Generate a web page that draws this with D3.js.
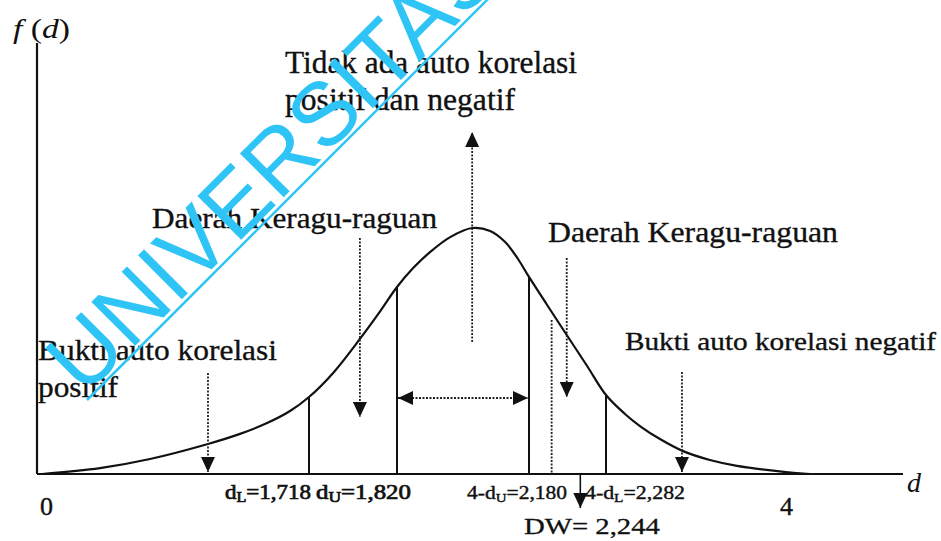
<!DOCTYPE html>
<html>
<head>
<meta charset="utf-8">
<script src="https://cdn.jsdelivr.net/npm/d3@7"></script>
<style>
  body { margin: 0; background: #fff; }
  svg { display: block; }
  text { font-family: "Liberation Serif", "Times New Roman", serif; fill: #111; }
</style>
</head>
<body>
<div id="chart"></div>
<script>
// Durbin-Watson test values
var critNames = ["d", "d", "4-d", "4-d"];
var critSubs = ["L", "U", "U", "L"];
var critValues = [1.718, 1.820, 2.180, 2.282];
var critLabels = ["1,718", "1,820", "2,180", "2,282"];
var dwValue = 2.244;
var dwLabel = "DW= 2,244";
var xTicks = [0, 4];

// f(d) curve (d, relative density)
var curveD = [0, 0.373, 0.695, 1.068, 1.274, 1.448, 1.596, 1.718, 1.746, 1.777, 1.800, 1.820, 1.864, 1.910, 1.965, 2.025,
              2.074, 2.115, 2.150, 2.180, 2.204, 2.230, 2.257, 2.282, 2.463, 2.606, 2.797, 3.017, 3.274, 3.532, 4.000, 4.229];
var curveF = [0, 0.024, 0.061, 0.122, 0.163, 0.207, 0.256, 0.313, 0.411, 0.549, 0.659, 0.760, 0.837, 0.902, 0.963, 1.000,
              0.988, 0.943, 0.874, 0.801, 0.687, 0.565, 0.439, 0.321, 0.244, 0.195, 0.142, 0.093, 0.057, 0.033, 0.008, 0];

// where the region arrows point (d)
var arrowD = [1.068, 1.777, 2.025, 2.230, 3.007];
var markD = 2.210;

var width = 941, height = 541;
var base = 474, top0 = 43, left0 = 37, right0 = 903;

// the picture is schematic: the critical values are spread apart
var x = d3.scaleLinear()
    .domain([0, critValues[0], critValues[1], critValues[2], critValues[3], 4])
    .range([42, 309, 397, 529, 606, 786]);
var y = d3.scaleLinear().domain([0, 1]).range([base, 228]);

var svg = d3.select("#chart").append("svg")
    .attr("width", width)
    .attr("height", height);

var defs = svg.append("defs");
defs.append("marker")
    .attr("id", "head")
    .attr("markerUnits", "userSpaceOnUse")
    .attr("viewBox", "0 0 15 14")
    .attr("markerWidth", 15)
    .attr("markerHeight", 14)
    .attr("refX", 15)
    .attr("refY", 7)
    .attr("orient", "auto-start-reverse")
  .append("path")
    .attr("d", "M0,0L15,7L0,14Z")
    .style("fill", "#111");

var data = curveD.map(function(d, i) { return {d: d, f: curveF[i]}; });
function fAt(v) {
  return curveF[curveD.indexOf(v)];
}

// axes
svg.append("line")
    .attr("x1", left0).attr("x2", left0)
    .attr("y1", top0).attr("y2", base)
    .style("stroke", "#111").style("stroke-width", 2.2);
svg.append("line")
    .attr("x1", left0).attr("x2", right0)
    .attr("y1", base).attr("y2", base)
    .style("stroke", "#111").style("stroke-width", 2.2);

var xAxis = svg.append("g")
    .attr("transform", "translate(0," + base + ")")
    .call(d3.axisBottom(x).tickValues(xTicks).tickSize(0).tickPadding(23).tickFormat(d3.format("d")));
xAxis.select(".domain").remove();
xAxis.selectAll("text")
    .attr("dx", function(d) { return d === 0 ? 4 : 0; })
    .style("font-family", "'Liberation Serif', 'Times New Roman', serif")
    .style("font-size", "26px")
    .style("fill", "#111")
    .style("stroke", "#111")
    .style("stroke-width", 0.4);

// curve
svg.append("path")
    .datum(data)
    .attr("d", d3.line()
        .x(function(d) { return x(d.d); })
        .y(function(d) { return y(d.f); })
        .curve(d3.curveCatmullRom.alpha(0.5)))
    .style("fill", "none")
    .style("stroke", "#111")
    .style("stroke-width", 2.2);

// critical value lines
svg.selectAll(".crit")
    .data(critValues)
  .enter().append("line")
    .attr("class", "crit")
    .attr("x1", function(d) { return x(d); })
    .attr("x2", function(d) { return x(d); })
    .attr("y1", base)
    .attr("y2", function(d) { return y(fAt(d)); })
    .style("stroke", "#111")
    .style("stroke-width", 2);

// dotted mark near DW
svg.append("line")
    .attr("x1", x(markD)).attr("x2", x(markD))
    .attr("y1", 320).attr("y2", base)
    .style("stroke", "#222").style("stroke-width", 1.8)
    .style("stroke-dasharray", "2,1.5");

// region arrows
var arrowY1 = [373, 238, 342, 258, 372];
var arrowY2 = [472, 417, 132, 397, 472];
svg.selectAll(".reg")
    .data(arrowD)
  .enter().append("line")
    .attr("class", "reg")
    .attr("x1", function(d) { return x(d); })
    .attr("x2", function(d) { return x(d); })
    .attr("y1", function(d, i) { return arrowY1[i]; })
    .attr("y2", function(d, i) { return arrowY2[i]; })
    .attr("marker-end", "url(#head)")
    .style("stroke", "#222")
    .style("stroke-width", 1.8)
    .style("stroke-dasharray", "2,1.5");

// double arrow between dU and 4-dU
svg.append("line")
    .attr("x1", x(critValues[1]) + 1).attr("x2", x(critValues[2]) - 1)
    .attr("y1", 398).attr("y2", 398)
    .attr("marker-start", "url(#head)")
    .attr("marker-end", "url(#head)")
    .style("stroke", "#222").style("stroke-width", 1.8)
    .style("stroke-dasharray", "2,1.5");

// DW arrow
svg.append("line")
    .attr("x1", x(dwValue) + 3).attr("x2", x(dwValue) + 3)
    .attr("y1", base).attr("y2", 508)
    .attr("marker-end", "url(#head)")
    .style("stroke", "#111").style("stroke-width", 1.6);

// critical value labels
var labX = [225, 316, 467, 585];
var labLen = [86, 95, 100, 100];
var labSize = [20, 20, 18, 18];
critValues.forEach(function(v, i) {
  var t = svg.append("text")
      .attr("x", labX[i])
      .attr("y", 499)
      .attr("textLength", labLen[i])
      .attr("lengthAdjust", "spacingAndGlyphs")
      .style("font-size", labSize[i] + "px")
      .style("stroke", "#111")
      .style("stroke-width", i < 2 ? 0.7 : 0.4);
  t.append("tspan").text(critNames[i]);
  t.append("tspan").attr("dy", 3).style("font-size", (labSize[i] * 0.7) + "px").text(critSubs[i]);
  t.append("tspan").attr("dy", -3).text("=" + critLabels[i]);
});

svg.append("text")
    .attr("x", 524).attr("y", 534)
    .attr("textLength", 136)
    .attr("lengthAdjust", "spacingAndGlyphs")
    .style("font-size", "24px")
    .style("stroke", "#111").style("stroke-width", 0.3)
    .text(dwLabel);

// axis titles
var fd = svg.append("text")
    .attr("x", 13).attr("y", 38)
    .attr("textLength", 57)
    .attr("lengthAdjust", "spacingAndGlyphs")
    .style("font-size", "27px");
fd.append("tspan").style("font-style", "italic").text("f ");
fd.append("tspan").text("(");
fd.append("tspan").style("font-style", "italic").text("d");
fd.append("tspan").text(")");

svg.append("text")
    .attr("x", 907).attr("y", 492)
    .style("font-size", "28px")
    .style("font-style", "italic")
    .text("d");

// region texts
var notes = [
  {t: "Tidak ada auto korelasi", x: 285, y: 73, s: 31, w: 292},
  {t: "positif dan negatif", x: 285, y: 110, s: 31, w: 230},
  {t: "Daerah Keragu-raguan", x: 152, y: 228, s: 29, w: 285},
  {t: "Daerah Keragu-raguan", x: 548, y: 242, s: 29, w: 290},
  {t: "Bukti auto korelasi", x: 38, y: 360, s: 30, w: 239},
  {t: "positif", x: 38, y: 397, s: 30, w: 80},
  {t: "Bukti auto korelasi negatif", x: 625, y: 350, s: 26, w: 311}
];
svg.selectAll(".note")
    .data(notes)
  .enter().append("text")
    .attr("class", "note")
    .attr("x", function(d) { return d.x; })
    .attr("y", function(d) { return d.y; })
    .attr("textLength", function(d) { return d.w; })
    .attr("lengthAdjust", "spacingAndGlyphs")
    .style("font-size", function(d) { return d.s + "px"; })
    .style("stroke", "#111")
    .style("stroke-width", 0.35)
    .text(function(d) { return d.t; });

// watermark
var wm = svg.append("g").style("pointer-events", "none");
wm.append("text")
    .attr("transform", "translate(84,397) rotate(-45)")
    .style("font-family", "'Liberation Sans', Arial, sans-serif")
    .style("font-size", "90px")
    .style("fill", "#2ec5f6")
    .text("UNIVERSITAS");
wm.append("line")
    .attr("x1", 87).attr("y1", 400)
    .attr("x2", 500).attr("y2", -13)
    .style("stroke", "#2ec5f6")
    .style("stroke-width", 2.5);
</script>
</body>
</html>
